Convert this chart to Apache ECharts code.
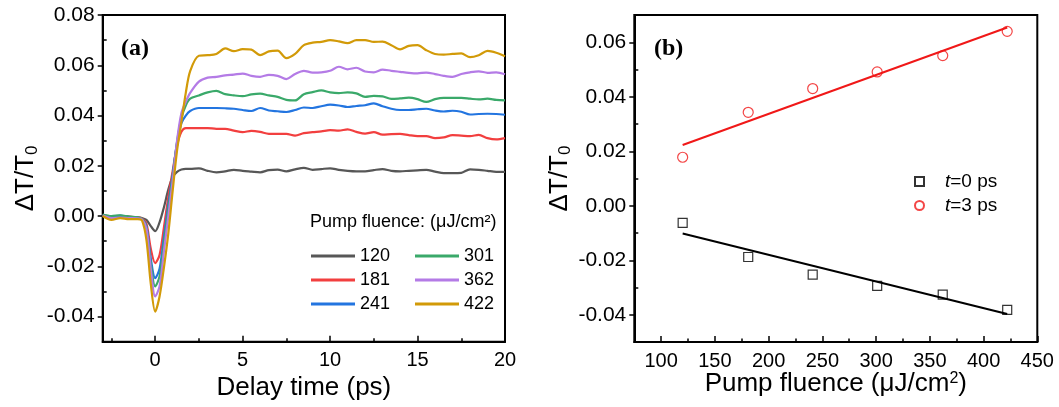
<!DOCTYPE html>
<html>
<head>
<meta charset="utf-8">
<script src="https://cdn.jsdelivr.net/npm/echarts@6/dist/echarts.min.js"></script>
<style>
  html, body { margin: 0; padding: 0; background: #fff; }
  #chart { width: 1059px; height: 407px; }
</style>
</head>
<body>
<div id="chart"></div>
<script>
// ---- Panel (a): transient transmission vs delay time ----
const delayTimes = [
  -3, -2.5, -2, -1.5, -1, -0.75, -0.5, -0.25, 0, 0.25, 0.5, 0.75, 1, 1.25, 1.5, 1.75,
  2, 2.5, 3, 3.5, 4, 4.5, 5, 5.5, 6, 6.5, 7, 7.5, 8, 8.5, 9, 9.5, 10, 10.5, 11, 11.5,
  12, 12.5, 13, 13.5, 14, 14.5, 15, 15.5, 16, 16.5, 17, 17.5, 18, 18.5, 19, 19.5, 20
];

const fluenceLabels = ['120', '181', '241', '301', '362', '422'];
const traceColors = ['#575757', '#f23f3f', '#2375e0', '#3aa96a', '#b47be6', '#d29a08'];

const trace120 = [
  0.0005, -0.0003, 0.0, -0.0002, -0.0005, -0.0008, -0.0015, -0.004, -0.006, -0.0025, 0.0035, 0.0105, 0.0155, 0.0176, 0.0185, 0.0188,
  0.0188, 0.019, 0.018, 0.0174, 0.0178, 0.0184, 0.018, 0.0177, 0.0174, 0.0183, 0.0185, 0.0178, 0.0186, 0.0192, 0.0184, 0.0187, 0.019,
  0.0184, 0.018, 0.0178, 0.0178, 0.0183, 0.0187, 0.018, 0.0178, 0.018, 0.0182, 0.0184, 0.0177, 0.0171, 0.0171, 0.0172, 0.0186, 0.0184,
  0.018, 0.0176, 0.0176
];
const trace181 = [
  0.0003, -0.0002, 0.0001, -0.0003, -0.0005, -0.001, -0.003, -0.013, -0.0187, -0.0155, -0.0045, 0.0075, 0.018, 0.028, 0.0335, 0.035,
  0.035, 0.035, 0.035, 0.0347, 0.0347, 0.034, 0.0334, 0.0339, 0.0335, 0.0327, 0.0327, 0.0327, 0.032, 0.033, 0.0334, 0.0337, 0.0342,
  0.034, 0.0345, 0.0335, 0.0328, 0.0334, 0.0324, 0.0326, 0.0327, 0.0322, 0.0318, 0.0318, 0.031, 0.0313, 0.0322, 0.032, 0.0318, 0.0323,
  0.031, 0.0305, 0.031
];
const trace241 = [
  0.0004, -0.0002, 0.0002, -0.0004, -0.0006, -0.0012, -0.004, -0.017, -0.0247, -0.021, -0.0085, 0.0045, 0.0165, 0.029, 0.037, 0.040,
  0.0418, 0.043, 0.043, 0.043, 0.0429, 0.0427, 0.0422, 0.0418, 0.043, 0.042, 0.0417, 0.0414, 0.0422, 0.0432, 0.043, 0.0437, 0.0443,
  0.044, 0.0434, 0.0438, 0.0441, 0.0448, 0.0437, 0.0427, 0.0422, 0.0422, 0.0425, 0.0427, 0.042, 0.0416, 0.0419, 0.0415, 0.0404, 0.0406,
  0.0407, 0.0406, 0.0403
];
const trace301 = [
  0.0006, 0.0, 0.0003, -0.0002, -0.0005, -0.0012, -0.0045, -0.019, -0.028, -0.024, -0.011, 0.0025, 0.0155, 0.0295, 0.039, 0.044,
  0.0467, 0.048, 0.0492, 0.0498, 0.0485, 0.048, 0.0477, 0.0484, 0.0487, 0.048, 0.0474, 0.0462, 0.046, 0.0485, 0.0493, 0.05, 0.0492,
  0.0489, 0.0492, 0.0488, 0.0474, 0.0478, 0.0476, 0.0466, 0.0468, 0.0471, 0.0465, 0.0454, 0.0465, 0.047, 0.047, 0.047, 0.0467, 0.0464,
  0.0467, 0.0462, 0.046
];
const trace362 = [
  0.0002, -0.0008, -0.0006, -0.0008, -0.0009, -0.0014, -0.005, -0.021, -0.032, -0.028, -0.014, 0.0, 0.014, 0.030, 0.041, 0.0455,
  0.049, 0.0535, 0.0551, 0.0554, 0.056, 0.0563, 0.0567, 0.0558, 0.0554, 0.0562, 0.0558, 0.0545, 0.0565, 0.0578, 0.0571, 0.0572, 0.0578,
  0.0594, 0.0584, 0.059, 0.0575, 0.0572, 0.0583, 0.0578, 0.0574, 0.057, 0.0568, 0.0571, 0.0565, 0.0558, 0.0554, 0.0565, 0.0572, 0.0576,
  0.057, 0.0572, 0.0564
];
const trace422 = [
  0.0, -0.0015, -0.0008, -0.0012, -0.0012, -0.0018, -0.0095, -0.027, -0.038, -0.032, -0.0205, -0.007, 0.01, 0.026, 0.0375, 0.049,
  0.0577, 0.0638, 0.064, 0.0645, 0.0667, 0.0656, 0.0664, 0.0662, 0.064, 0.0655, 0.0658, 0.0628, 0.0645, 0.068, 0.069, 0.0693, 0.07,
  0.0695, 0.0688, 0.07, 0.07, 0.0693, 0.0694, 0.068, 0.0663, 0.0677, 0.068, 0.066, 0.0645, 0.0642, 0.0645, 0.0647, 0.0632, 0.064,
  0.0657, 0.065, 0.0636
];
const traces = [trace120, trace181, trace241, trace301, trace362, trace422];

// Panel (a) ticks
const delayMajorTicks = [0, 5, 10, 15, 20];
const delayMinorTicks = [-2.5, 2.5, 7.5, 12.5, 17.5];
const leftYMajorTicks = [-0.04, -0.02, 0.0, 0.02, 0.04, 0.06, 0.08];
const leftYMinorTicks = [-0.03, -0.01, 0.01, 0.03, 0.05, 0.07];

// ---- Panel (b): signal amplitude vs pump fluence ----
const pumpFluence = [120, 181, 241, 301, 362, 422];
const signalT0 = [-0.0063, -0.0188, -0.0253, -0.0294, -0.0326, -0.0382];
const signalT3 = [0.0178, 0.0343, 0.043, 0.0491, 0.0551, 0.064];
const fitT0 = [[120, -0.0102], [422, -0.0397]];
const fitT3 = [[120, 0.0223], [422, 0.0654]];

const fluenceMajorTicks = [100, 150, 200, 250, 300, 350, 400, 450];
const fluenceMinorTicks = [125, 175, 225, 275, 325, 375, 425];
const rightYMajorTicks = [-0.04, -0.02, 0.0, 0.02, 0.04, 0.06];
const rightYMinorTicks = [-0.03, -0.01, 0.01, 0.03, 0.05];

const FONT = '"Liberation Sans", Arial, Helvetica, sans-serif';
const SERIF = '"Liberation Serif", "Times New Roman", serif';

function majorXAxis(grid, min, max, ticks, name, gap) {
  return {
    gridIndex: grid, type: 'value', position: 'bottom', min: min, max: max,
    axisLine: { show: true, onZero: false, lineStyle: { color: '#000', width: 2 } },
    axisTick: { show: true, inside: true, length: 6, customValues: ticks, lineStyle: { color: '#000', width: 1.5 } },
    axisLabel: { customValues: ticks, color: '#000', fontSize: 20, fontFamily: FONT, margin: 9 },
    splitLine: { show: false },
    name: name, nameLocation: 'middle', nameGap: gap, nameMoveOverlap: false,
    nameTextStyle: { color: '#000', fontSize: 26, fontFamily: FONT,
      rich: { sup: { fontSize: 16, fontFamily: FONT, color: '#000', verticalAlign: 'top', padding: [0, 0, 8, 0] } } }
  };
}
function minorXAxis(grid, min, max, ticks) {
  return {
    gridIndex: grid, type: 'value', position: 'bottom', min: min, max: max,
    axisLine: { show: false, onZero: false },
    axisTick: { show: true, inside: true, length: 3.5, customValues: ticks, lineStyle: { color: '#000', width: 1.5 } },
    axisLabel: { show: false }, splitLine: { show: false }
  };
}
function majorYAxis(grid, min, max, ticks, gap) {
  return {
    gridIndex: grid, type: 'value', position: 'left', min: min, max: max,
    axisLine: { show: true, onZero: false, lineStyle: { color: '#000', width: 2 } },
    axisTick: { show: true, inside: false, length: 5, customValues: ticks, lineStyle: { color: '#000', width: 1.5 } },
    axisLabel: { customValues: ticks, color: '#000', fontSize: 21, fontFamily: FONT, margin: 8,
      formatter: v => v.toFixed(2) },
    splitLine: { show: false },
    name: 'ΔT/T{sub|0}', nameLocation: 'middle', nameGap: gap, nameRotate: 90,
    nameTextStyle: { color: '#000', fontSize: 26, fontFamily: FONT,
      rich: { sub: { fontSize: 17, fontFamily: FONT, color: '#000', verticalAlign: 'bottom', padding: [12, 0, 0, 0] } } }
  };
}
function minorYAxis(grid, min, max, ticks) {
  return {
    gridIndex: grid, type: 'value', position: 'left', min: min, max: max,
    axisLine: { show: false, onZero: false },
    axisTick: { show: true, inside: true, length: 4, customValues: ticks, lineStyle: { color: '#000', width: 1.5 } },
    axisLabel: { show: false }, splitLine: { show: false }
  };
}

const traceSeries = fluenceLabels.map((label, i) => ({
  name: label,
  type: 'line',
  xAxisIndex: 0, yAxisIndex: 0,
  data: delayTimes.map((t, k) => [t, traces[i][k]]),
  showSymbol: false, symbol: 'none',
  smooth: 0.3,
  color: traceColors[i],
  lineStyle: { color: traceColors[i], width: 2.2 },
  itemStyle: { color: traceColors[i] },
  z: 2 + i
}));

const option = {
  animation: false,
  backgroundColor: '#fff',
  grid: [
    { left: 102.7, top: 15, width: 402.3, height: 326.7, show: true, borderColor: '#000', borderWidth: 2, backgroundColor: 'transparent' },
    { left: 634.3, top: 15, width: 403, height: 327, show: true, borderColor: '#000', borderWidth: 2, backgroundColor: 'transparent' }
  ],
  xAxis: [
    majorXAxis(0, -3, 20, delayMajorTicks, 'Delay time (ps)', 33),
    minorXAxis(0, -3, 20, delayMinorTicks),
    majorXAxis(1, 75, 450, fluenceMajorTicks, 'Pump fluence (μJ/cm{sup|2})', 29),
    minorXAxis(1, 75, 450, fluenceMinorTicks)
  ],
  yAxis: [
    majorYAxis(0, -0.05, 0.08, leftYMajorTicks, 62),
    minorYAxis(0, -0.05, 0.08, leftYMinorTicks),
    majorYAxis(1, -0.05, 0.07, rightYMajorTicks, 60),
    minorYAxis(1, -0.05, 0.07, rightYMinorTicks)
  ],
  legend: [
    {
      data: fluenceLabels.slice(0, 3), orient: 'vertical', left: 311, top: 247,
      icon: 'rect', itemWidth: 44, itemHeight: 3, itemGap: 6, padding: 0,
      textStyle: { fontSize: 18, fontFamily: FONT, color: '#000', lineHeight: 18 },
      selectedMode: false
    },
    {
      data: fluenceLabels.slice(3), orient: 'vertical', left: 415, top: 247,
      icon: 'rect', itemWidth: 44, itemHeight: 3, itemGap: 6, padding: 0,
      textStyle: { fontSize: 18, fontFamily: FONT, color: '#000', lineHeight: 18 },
      selectedMode: false
    },
    {
      data: ['t=0 ps', 't=3 ps'], orient: 'vertical', left: 914, top: 172, padding: 0,
      itemWidth: 9, itemHeight: 9, itemGap: 5,
      formatter: name => '{gap|}{it|t}' + name.slice(1),
      textStyle: { fontSize: 19, fontFamily: FONT, color: '#000', lineHeight: 19,
        rich: { gap: { width: 16 }, it: { fontStyle: 'italic', fontSize: 19, fontFamily: FONT, color: '#000' } } },
      selectedMode: false
    }
  ],
  graphic: [
    { type: 'text', left: 121, top: 37, style: { text: '(a)', font: 'bold 24px ' + SERIF, fill: '#000' } },
    { type: 'text', left: 654, top: 37, style: { text: '(b)', font: 'bold 24px ' + SERIF, fill: '#000' } },
    { type: 'text', left: 310, top: 213, style: { text: 'Pump fluence: (μJ/cm²)', font: '18px ' + FONT, fill: '#000' } }
  ],
  series: traceSeries.concat([
    {
      name: 'fit0', type: 'line', xAxisIndex: 2, yAxisIndex: 2, data: fitT0,
      showSymbol: false, symbol: 'none', lineStyle: { color: '#000', width: 2 }, z: 2
    },
    {
      name: 'fit3', type: 'line', xAxisIndex: 2, yAxisIndex: 2, data: fitT3,
      showSymbol: false, symbol: 'none', lineStyle: { color: '#f01818', width: 2 }, z: 2
    },
    {
      name: 't=0 ps', type: 'scatter', xAxisIndex: 2, yAxisIndex: 2,
      data: pumpFluence.map((f, i) => [f, signalT0[i]]),
      symbol: 'rect', symbolSize: 9,
      itemStyle: { color: 'rgba(0,0,0,0)', borderColor: '#000', borderWidth: 1.2 }, z: 5
    },
    {
      name: 't=3 ps', type: 'scatter', xAxisIndex: 2, yAxisIndex: 2,
      data: pumpFluence.map((f, i) => [f, signalT3[i]]),
      symbol: 'circle', symbolSize: 10,
      itemStyle: { color: 'rgba(0,0,0,0)', borderColor: '#f01818', borderWidth: 1.2 }, z: 5
    }
  ])
};

const chart = echarts.init(document.getElementById('chart'), null, { renderer: 'canvas' });
chart.setOption(option);
</script>
</body>
</html>
